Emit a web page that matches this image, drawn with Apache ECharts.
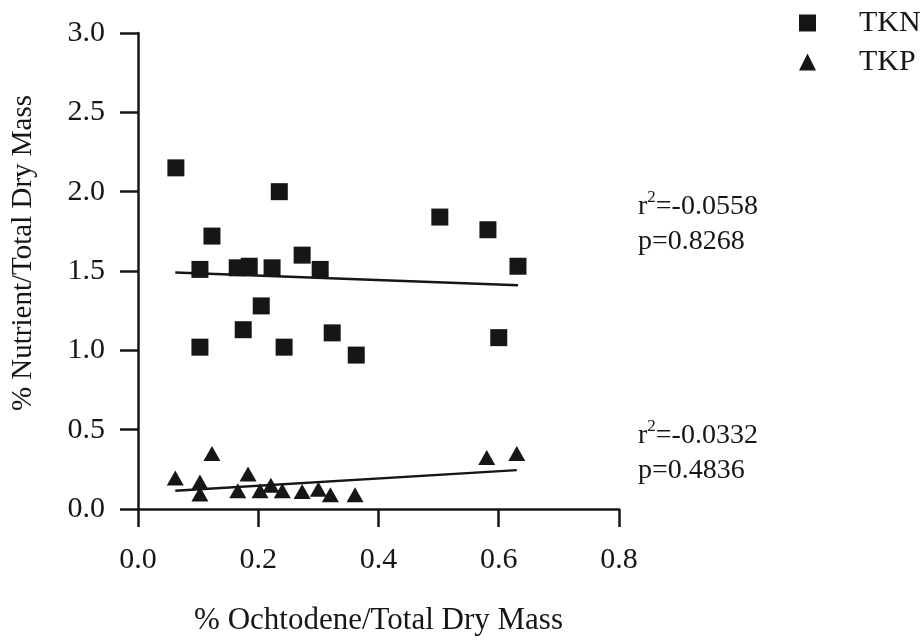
<!DOCTYPE html>
<html>
<head>
<meta charset="utf-8">
<script src="https://cdn.jsdelivr.net/npm/echarts@6/dist/echarts.min.js"></script>
<style>html,body{margin:0;padding:0;background:#fff}#c{width:924px;height:642px}</style>
</head>
<body>
<div id="c"></div>
<script>
var tknX = [0.063, 0.235, 0.123, 0.103, 0.165, 0.185, 0.223, 0.273, 0.303, 0.205, 0.175, 0.103, 0.243, 0.323, 0.363, 0.502, 0.582, 0.632, 0.600];
var tknY = [2.15, 2.00, 1.72, 1.51, 1.52, 1.53, 1.52, 1.60, 1.51, 1.28, 1.13, 1.02, 1.02, 1.11, 0.97, 1.84, 1.76, 1.53, 1.08];
var tkpX = [0.062, 0.103, 0.103, 0.123, 0.166, 0.183, 0.203, 0.221, 0.240, 0.273, 0.300, 0.320, 0.361, 0.580, 0.630];
var tkpY = [0.195, 0.17, 0.095, 0.35, 0.115, 0.22, 0.115, 0.15, 0.115, 0.11, 0.125, 0.09, 0.09, 0.325, 0.35];
var tknFitX = [0.062, 0.632];
var tknFitY = [1.49, 1.41];
var tkpFitX = [0.062, 0.630];
var tkpFitY = [0.115, 0.245];
var xTicks = [0.0, 0.2, 0.4, 0.6, 0.8];
var yTicks = [0.0, 0.5, 1.0, 1.5, 2.0, 2.5, 3.0];
var seriesNames = ['TKN', 'TKP'];
var statsTKN = ['-0.0558', '0.8268'];
var statsTKP = ['-0.0332', '0.4836'];

function zip(a, b) { return a.map(function (v, i) { return [v, b[i]]; }); }
var ink = '#161616';
var font = 'Liberation Serif, Times New Roman, serif';

var rich = {
  b: { fontFamily: font, fontSize: 28, fill: ink, lineHeight: 35 },
  s: { fontFamily: font, fontSize: 17, fill: ink, verticalAlign: 'top', lineHeight: 35, padding: [0, 0, 14, 0] }
};

var chart = echarts.init(document.getElementById('c'), null, { renderer: 'canvas' });
chart.setOption({
  animation: false,
  backgroundColor: '#fff',
  grid: { left: 138, right: 305, top: 33, bottom: 133, containLabel: false },
  legend: {
    left: 794, top: 3, orient: 'vertical', itemGap: 9,
    itemWidth: 17, itemHeight: 17,
    data: [{ name: seriesNames[0], icon: 'rect' }, { name: seriesNames[1], icon: 'triangle' }],
    textStyle: { fontFamily: font, fontSize: 30, color: ink, padding: [0, 0, 0, 38] }
  },
  xAxis: {
    type: 'value', min: 0, max: 0.8, interval: 0.2,
    name: '% Ochtodene/Total Dry Mass', nameLocation: 'middle', nameGap: 96,
    nameTextStyle: { fontFamily: font, fontSize: 31, color: ink },
    axisLine: { show: true, onZero: false, lineStyle: { color: ink, width: 2.5 } },
    axisTick: { show: true, inside: false, length: 18, lineStyle: { color: ink, width: 2.5 } },
    axisLabel: { margin: 36, fontFamily: font, fontSize: 30, color: ink,
      formatter: function (v) { return xTicks.indexOf(Math.round(v * 10) / 10) >= 0 ? v.toFixed(1) : ''; } },
    splitLine: { show: false }
  },
  yAxis: {
    type: 'value', min: 0, max: 3, interval: 0.5,
    name: '% Nutrient/Total Dry Mass', nameLocation: 'middle', nameGap: 100,
    nameTextStyle: { fontFamily: font, fontSize: 29, color: ink, padding: [0, 0, 0, 36] },
    axisLine: { show: true, onZero: false, lineStyle: { color: ink, width: 2.5 } },
    axisTick: { show: true, inside: false, length: 18, lineStyle: { color: ink, width: 2.5 } },
    axisLabel: { margin: 33, fontFamily: font, fontSize: 30, color: ink,
      formatter: function (v) { return yTicks.indexOf(Math.round(v * 10) / 10) >= 0 ? v.toFixed(1) : ''; } },
    splitLine: { show: false }
  },
  series: [
    { name: seriesNames[0], type: 'scatter', symbol: 'rect', symbolSize: 17,
      itemStyle: { color: ink, opacity: 1 }, data: zip(tknX, tknY), z: 3 },
    { name: seriesNames[1], type: 'scatter', symbol: 'triangle', symbolSize: [17, 15],
      itemStyle: { color: ink, opacity: 1 }, data: zip(tkpX, tkpY), z: 3 },
    { name: 'TKN fit', type: 'line', symbol: 'none', data: zip(tknFitX, tknFitY),
      lineStyle: { color: ink, width: 2.5 }, z: 2 },
    { name: 'TKP fit', type: 'line', symbol: 'none', data: zip(tkpFitX, tkpFitY),
      lineStyle: { color: ink, width: 2.5 }, z: 2 }
  ],
  graphic: [
    { type: 'text', left: 638, top: 189, style: {
      text: '{b|r}{s|2}{b|=' + statsTKN[0] + '}\n{b|p=' + statsTKN[1] + '}', rich: rich } },
    { type: 'text', left: 638, top: 418, style: {
      text: '{b|r}{s|2}{b|=' + statsTKP[0] + '}\n{b|p=' + statsTKP[1] + '}', rich: rich } }
  ]
});
</script>
</body>
</html>
